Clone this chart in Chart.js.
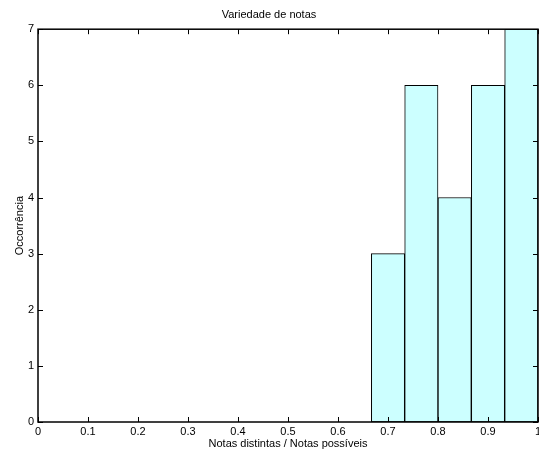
<!DOCTYPE html>
<html>
<head>
<meta charset="utf-8">
<script src="https://cdn.jsdelivr.net/npm/chart.js@4/dist/chart.umd.min.js"></script>
<style>
  html, body { margin: 0; padding: 0; background: #fff; }
  #wrap { width: 539px; height: 452px; }
</style>
</head>
<body>
<div id="wrap"><canvas id="grafica" width="539" height="452"></canvas></div>
<script>
// Histograma - centros das classes e ocorrencias
const centros = [0.7, 0.7667, 0.8333, 0.9, 0.9667];
const ocorrencias = [3, 6, 4, 6, 7];
const ticksX = [0, 0.1, 0.2, 0.3, 0.4, 0.5, 0.6, 0.7, 0.8, 0.9, 1];
const ticksY = [0, 1, 2, 3, 4, 5, 6, 7];

const fonte = { family: "'Liberation Sans', Arial, sans-serif", size: 11, weight: 'normal' };

// caixa em volta + tracinhos para dentro
const caixaPlugin = {
  id: 'caixa',
  afterDatasetsDraw(chart) {
    const { ctx, chartArea: a, scales } = chart;
    ctx.save();
    ctx.strokeStyle = '#000';
    ctx.lineWidth = 1;
    ctx.beginPath();
    ticksX.forEach(v => {
      const px = Math.round(scales.x.getPixelForValue(v)) + 0.5;
      ctx.moveTo(px, a.bottom); ctx.lineTo(px, a.bottom - 5);
      ctx.moveTo(px, a.top); ctx.lineTo(px, a.top + 5);
    });
    ticksY.forEach(v => {
      const py = Math.round(scales.y.getPixelForValue(v)) + 0.5;
      ctx.moveTo(a.left, py); ctx.lineTo(a.left + 5, py);
      ctx.moveTo(a.right, py); ctx.lineTo(a.right - 5, py);
    });
    ctx.stroke();
    ctx.lineWidth = 1.5;
    ctx.strokeRect(a.left, a.top, a.right - a.left, a.bottom - a.top);
    ctx.restore();
  }
};

const myChart = new Chart(document.getElementById('grafica'), {
  type: 'bar',
  data: {
    datasets: [{
      label: 'Occorrência',
      data: centros.map((c, i) => ({ x: c, y: ocorrencias[i] })),
      backgroundColor: '#ccffff',
      borderColor: '#000',
      borderWidth: 1,
      borderSkipped: false,
      barPercentage: 1,
      categoryPercentage: 1
    }]
  },
  options: {
    responsive: false,
    animation: false,
    layout: { padding: { left: 0, right: 1, top: 0, bottom: 0 } },
    plugins: {
      legend: { display: false },
      tooltip: { enabled: false },
      title: {
        display: true,
        text: 'Variedade de notas',
        color: '#000',
        font: fonte,
        padding: { top: 8, bottom: 8 }
      }
    },
    scales: {
      x: {
        type: 'linear',
        offset: false,
        min: 0,
        max: 1,
        afterBuildTicks: s => { s.ticks = ticksX.map(v => ({ value: v })); },
        afterFit: s => { s.height = 30; s.paddingLeft = 0; s.paddingRight = 0; },
        grid: { display: false, drawTicks: false, tickLength: 0, offset: false },
        border: { display: false },
        ticks: {
          color: '#000', font: fonte, padding: 3, maxRotation: 0,
          callback: v => String(v)
        },
        title: {
          display: true, text: 'Notas distintas / Notas possíveis',
          color: '#000', font: fonte, padding: { top: 0, bottom: 1 }
        }
      },
      y: {
        min: 0,
        max: 7,
        afterBuildTicks: s => { s.ticks = ticksY.map(v => ({ value: v })); },
        afterFit: s => { s.width = 38; s.paddingTop = 0; s.paddingBottom = 0; },
        grid: { display: false, drawTicks: false, tickLength: 0 },
        border: { display: false },
        ticks: { color: '#000', font: fonte, padding: 4 },
        title: {
          display: true, text: 'Occorrência',
          color: '#000', font: fonte, padding: { top: 13, bottom: 0 }
        }
      }
    }
  },
  plugins: [caixaPlugin]
});
</script>
</body>
</html>
